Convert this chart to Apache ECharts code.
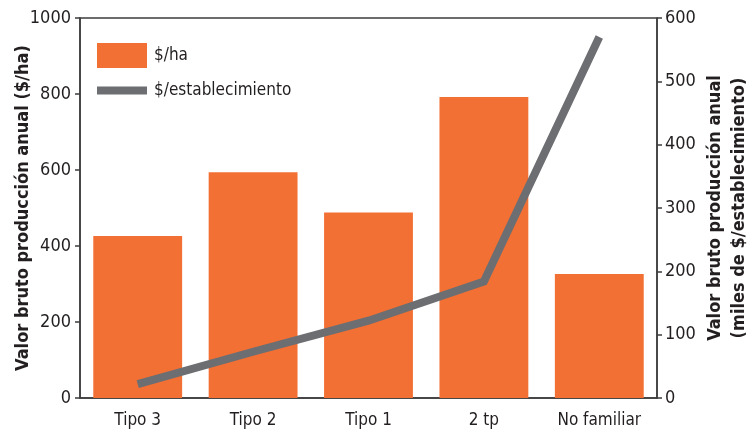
<!DOCTYPE html>
<html>
<head>
<meta charset="utf-8">
<script src="https://cdn.jsdelivr.net/npm/echarts@6/dist/echarts.min.js"></script>
<style>
  html, body { margin: 0; padding: 0; background: #fff; }
  #chart { width: 755px; height: 433px; }
</style>
</head>
<body>
<div id="chart"></div>
<script>
// Tipos de productor
const categories = ['Tipo 3', 'Tipo 2', 'Tipo 1', '2 tp', 'No familiar'];
// Valor bruto de producción anual por hectárea ($/ha)
const valorPorHa = [426, 594, 488, 792, 326];
// Valor bruto de producción anual por establecimiento (miles de $)
const valorPorEstablecimiento = [22, 73, 122, 184, 570];
const leftTicks = [0, 200, 400, 600, 800, 1000];
const rightTicks = [0, 100, 200, 300, 400, 500, 600];

const FONT = '"Liberation Sans Narrow", "DejaVu Sans Condensed", "Roboto", sans-serif';
const AXIS_COLOR = '#3c3c3c';
const ORANGE = '#f37034';
const GREY = '#6d6e71';

const chart = echarts.init(document.getElementById('chart'), null, { renderer: 'canvas' });

chart.setOption({
  animation: false,
  textStyle: { fontFamily: FONT },
  grid: {
    left: 80, right: 98, top: 18, bottom: 35,
    outerBoundsMode: 'none', containLabel: false,
    show: true, borderColor: AXIS_COLOR, borderWidth: 1.5, backgroundColor: 'transparent'
  },
  legend: {
    left: 92, top: 38, orient: 'vertical', itemGap: 14,
    itemWidth: 50, itemHeight: 25,
    textStyle: { fontFamily: FONT, fontSize: 17, color: '#231f20', padding: [0, 0, 0, 2] },
    data: [
      { name: '$/ha', icon: 'rect' },
      { name: '$/establecimiento', icon: 'path://M0,0 L50,0 L50,8 L0,8 Z' }
    ]
  },
  xAxis: {
    type: 'category',
    data: categories,
    axisLine: { lineStyle: { color: AXIS_COLOR, width: 1.5 } },
    axisTick: { show: false },
    axisLabel: { fontFamily: FONT, fontSize: 17, color: '#231f20', margin: 14 }
  },
  yAxis: [
    {
      type: 'value', min: 0, max: 1000, interval: 200,
      name: 'Valor bruto producción anual ($/ha)',
      nameLocation: 'middle', nameGap: 48, nameRotate: 90, nameMoveOverlap: false,
      nameTextStyle: { fontFamily: FONT, fontSize: 18, fontWeight: 'bold', color: '#231f20' },
      axisLine: { show: true, lineStyle: { color: AXIS_COLOR, width: 1.5 } },
      axisTick: { show: true, length: 5, lineStyle: { color: AXIS_COLOR, width: 1.5 } },
      axisLabel: {
        fontFamily: FONT, fontSize: 18, color: '#231f20', margin: 9,
        formatter: v => leftTicks.includes(v) ? String(v) : ''
      },
      splitLine: { show: false }
    },
    {
      type: 'value', min: 0, max: 600, interval: 100,
      name: 'Valor bruto producción anual\n(miles de $/establecimiento)',
      nameLocation: 'middle', nameGap: 46, nameRotate: 90, nameMoveOverlap: false,
      nameTextStyle: { fontFamily: FONT, fontSize: 18, fontWeight: 'bold', color: '#231f20', lineHeight: 24 },
      axisLine: { show: true, lineStyle: { color: AXIS_COLOR, width: 1.5 } },
      axisTick: { show: true, length: 5, lineStyle: { color: AXIS_COLOR, width: 1.5 } },
      axisLabel: {
        fontFamily: FONT, fontSize: 18, color: '#231f20', margin: 8,
        formatter: v => rightTicks.includes(v) ? String(v) : ''
      },
      splitLine: { show: false }
    }
  ],
  series: [
    {
      name: '$/ha', type: 'bar', yAxisIndex: 0,
      data: valorPorHa, barCategoryGap: '23%',
      itemStyle: { color: ORANGE }
    },
    {
      name: '$/establecimiento', type: 'line', yAxisIndex: 1,
      data: valorPorEstablecimiento,
      showSymbol: false, symbol: 'none',
      lineStyle: { color: GREY, width: 8, cap: 'butt', join: 'miter' },
      itemStyle: { color: GREY }
    }
  ]
});
</script>
</body>
</html>
